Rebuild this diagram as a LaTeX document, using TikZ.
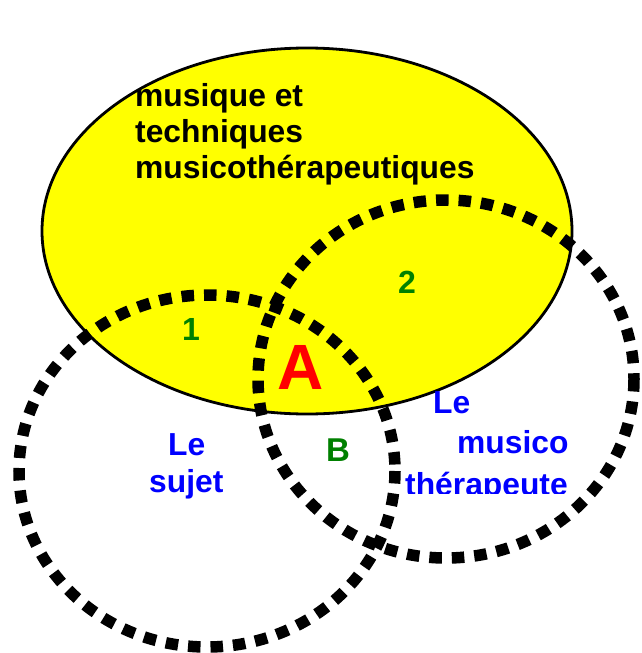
\documentclass[tikz,border=0pt]{standalone}
\usepackage{fontspec}
\setmainfont{Liberation Sans}
\definecolor{lblgreen}{RGB}{0,128,0}
\definecolor{lblblue}{RGB}{0,0,255}
\definecolor{lblred}{RGB}{255,0,0}
\definecolor{fillyellow}{RGB}{255,255,0}
\begin{document}
\begin{tikzpicture}[x=1pt,y=-1pt,
  dotc/.style={draw=black,line width=11.5pt,dash pattern=on 12.5pt off 10pt},
  txt/.style={font=\bfseries\fontsize{31.8}{36}\selectfont,inner sep=0pt,anchor=base west},
  num/.style={font=\bfseries\fontsize{32}{36}\selectfont,inner sep=0pt,anchor=base west,text=lblgreen}]
\useasboundingbox (0,0) rectangle (642,653);
\fill[white] (0,0) rectangle (642,653);
% yellow ellipse
\draw[fill=fillyellow,line width=2.8pt] (307,231) ellipse [x radius=265,y radius=183];
% dotted circles
\draw[dotc] (207,471) ellipse [x radius=188,y radius=176];
\draw[dotc] (446,379) ellipse [x radius=188,y radius=179];
% black text
\node[txt] (t1) at (135,106) {musique et};
\node[txt] (t2) at (135,142) {techniques};
\node[txt] (t3) at (135,178) {musicothérapeutiques};
% numbers and letters
\node[num] (n1) at (182,340) {1};
\node[num] (n2) at (398,293) {2};
\node[txt,font=\bfseries\fontsize{64}{70}\selectfont,text=lblred] (A) at (277,389) {A};
\node[txt,font=\bfseries\fontsize{33}{36}\selectfont,text=lblgreen] (B) at (326,461) {B};
% le sujet
\node[txt,text=lblblue] (s1) at (168,455) {Le};
\node[txt,text=lblblue] (s2) at (149,492) {sujet};
% le musicotherapeute
\node[txt,text=lblblue] (m1) at (433,413) {Le};
\node[txt,text=lblblue] (m2) at (457,453) {musico};
\begin{scope}
\clip (0,0) rectangle (642,493);
\node[txt,text=lblblue] (m3) at (405,495) {thérapeute};
\end{scope}
\end{tikzpicture}
\end{document}
